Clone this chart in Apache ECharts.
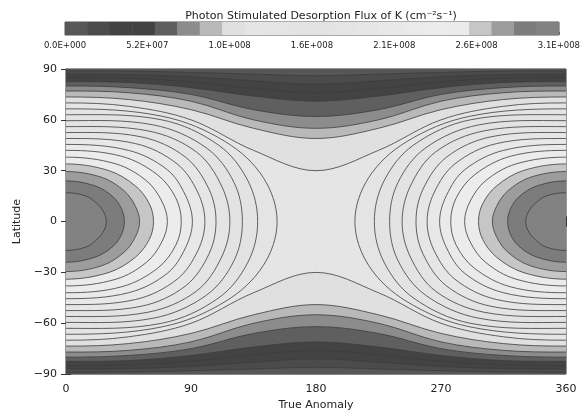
<!DOCTYPE html>
<html lang="en">
<head>
<meta charset="UTF-8">
<title>Photon Stimulated Desorption Flux of K</title>
<script src="https://cdn.jsdelivr.net/npm/echarts@6/dist/echarts.min.js"></script>
<style>html,body{margin:0;padding:0;background:#fff;}</style>
</head>
<body>
<div id="main" style="width:583px;height:416px;"></div>
<script>
// flux levels (cm^-2 s^-1): level k covers [k*levelStep, (k+1)*levelStep], 22 levels up to 3.12E8
var levelStep = 1.4182e7;
var levelIds = [0,1,2,3,4,5,6,7,8,9,10,11,12,13,14,15,16,17,18,19,20,21];
var barTicks = [0, 5.2e7, 1.04e8, 1.56e8, 2.08e8, 2.6e8, 3.12e8];
var anomalyTicks = [0, 90, 180, 270, 360];
var latTicks = [-90, -60, -30, 0, 30, 60, 90];

// grey for each level (IDL colour table)
var grays = ['#575757','#4b4b4b','#434343','#434343','#5f5f5f','#8c8c8c','#b9b9b9','#e0e0e0',
             '#e5e5e5','#e4e4e4','#e3e3e3','#e3e3e3','#e4e4e4','#e6e6e6','#e8e8e8','#eaeaea',
             '#ececec','#ebebeb','#c6c6c6','#9c9c9c','#7c7c7c','#828282'];

// contours read in the quadrant anomaly 0..180, latitude 0..90 [anomaly, latitude]
// closed ones round the maxima at (0,0) and (360,0)
var ovals = {
  21: [[0,17],[14.5,15],[23,10],[27.5,5],[29,0]],
  20: [[0,24],[21,21],[34,14.5],[40,7.5],[42,0]],
  19: [[0,29.5],[26,26],[42,18],[50,9],[53,0]],
  18: [[0,34],[31,30],[50,21],[60,10.5],[63,0]],
  17: [[0,38],[36,34],[58,24],[69,12],[73,0]],
  16: [[0,42],[40,38.5],[66,27.5],[79,14],[83,0]],
  15: [[0,45.5],[45,42],[73,30.5],[86,15.5],[91,0]],
  14: [[0,49],[50,46],[80,34],[95,17],[100,0]],
  13: [[0,52.5],[54,50],[86,38],[103,19],[108,0]],
  12: [[0,56],[59,53.5],[94,41],[112,21],[118,0]],
  11: [[0,59.5],[63,57],[101,43.5],[121,23],[127,0]],
  10: [[0,63],[69,60],[110,45],[131,24],[138,0]],
  9:  [[0,66.5],[70,62],[115,47],[142,26],[152,0]]
};
// open ones running right across the orbit
var bands = {
  8: [[0,70],[45,68],[90,60],[135,42],[180,30]],
  7: [[0,73.5],[45,72],[90,66],[135,55],[180,49]],
  6: [[0,77],[45,76],[90,71],[135,60],[180,55]],
  5: [[0,80],[45,79],[90,75],[135,66],[180,62]],
  4: [[0,82.5],[45,82],[90,79],[135,74],[180,71]],
  3: [[0,85],[45,84.5],[90,82.5],[135,78.5],[180,76]],
  2: [[0,87],[45,86.7],[90,85.5],[135,83],[180,81]],
  1: [[0,89],[45,88.8],[90,88],[135,87],[180,86]]
};

var myChart = echarts.init(document.getElementById('main'));

function sci(v) {
  if (v === 0) return '0.0E+000';
  var s = v.toExponential(1).split('e');
  var e = parseInt(s[1], 10);
  return s[0] + 'E' + (e < 0 ? '-' : '+') + String(Math.abs(e)).padStart(3, '0');
}
function minus(v) { return v < 0 ? '\u2212' + Math.abs(v) : String(v); }

// mirror a quadrant contour into a closed loop round (cx, 0)
function ovalLoop(q, cx) {
  var pts = [], n = q.length, i;
  for (i = 0; i < n; i++) pts.push([cx + q[i][0], q[i][1]]);
  for (i = n - 2; i >= 0; i--) pts.push([cx + q[i][0], -q[i][1]]);
  for (i = 1; i < n; i++) pts.push([cx - q[i][0], -q[i][1]]);
  for (i = n - 2; i >= 1; i--) pts.push([cx - q[i][0], q[i][1]]);
  return pts;
}
// mirror a quadrant contour across 0..360 (a bit past both edges)
function bandLine(q, sign) {
  var pts = [[-q[1][0], sign * q[1][1]]], n = q.length, i;
  for (i = 0; i < n; i++) pts.push([q[i][0], sign * q[i][1]]);
  for (i = n - 2; i >= 0; i--) pts.push([360 - q[i][0], sign * q[i][1]]);
  pts.push([360 + q[1][0], sign * q[1][1]]);
  return pts;
}

function shapesFor(k) {
  if (bands[k]) {
    return [{ closed: false, pts: bandLine(bands[k], 1) },
            { closed: false, pts: bandLine(bands[k], -1) }];
  }
  if (ovals[k]) {
    return [{ closed: true, pts: ovalLoop(ovals[k], 0) },
            { closed: true, pts: ovalLoop(ovals[k], 360) }];
  }
  return [];
}

function renderFill(params, api) {
  var k = api.value(0);
  var toPx = function (p) { return api.coord(p); };
  var kids = [];
  if (k === 0) {
    var a = api.coord([0, 90]), b = api.coord([360, -90]);
    kids.push({ type: 'rect', shape: { x: a[0], y: a[1], width: b[0] - a[0], height: b[1] - a[1] },
                style: { fill: grays[0] } });
  } else if (bands[k]) {
    var up = bandLine(bands[k], 1), lo = bandLine(bands[k], -1).reverse();
    kids.push({ type: 'polygon', shape: { points: up.concat(lo).map(toPx), smooth: 0.35 },
                style: { fill: grays[k] } });
  } else if (ovals[k]) {
    [0, 360].forEach(function (cx) {
      kids.push({ type: 'polygon', shape: { points: ovalLoop(ovals[k], cx).map(toPx), smooth: 0.35 },
                  style: { fill: grays[k] } });
    });
  }
  return { type: 'group', children: kids };
}

function renderLines(params, api) {
  var k = api.value(0);
  var toPx = function (p) { return api.coord(p); };
  var kids = shapesFor(k).map(function (s) {
    return { type: s.closed ? 'polygon' : 'polyline',
             shape: { points: s.pts.map(toPx), smooth: 0.35 },
             style: { fill: null, stroke: '#3c3c3c', lineWidth: 0.8 } };
  });
  return { type: 'group', children: kids };
}

function renderBar(params, api) {
  var k = api.value(0);
  var a = api.coord([k * levelStep, 1]), b = api.coord([(k + 1) * levelStep, 0]);
  return { type: 'rect', shape: { x: a[0], y: a[1], width: b[0] - a[0] + 0.5, height: b[1] - a[1] },
           style: { fill: grays[k] } };
}

var labelFont = { color: '#222', fontFamily: 'DejaVu Sans', fontSize: 11 };

option = {
  animation: false,
  backgroundColor: '#fff',
  title: {
    text: 'Photon Stimulated Desorption Flux of K (cm\u207B\u00B2s\u207B\u00B9)',
    left: 316, top: 6, textAlign: 'center',
    textStyle: { fontFamily: 'DejaVu Sans', fontSize: 11, fontWeight: 'normal', color: '#222' }
  },
  grid: [
    { left: 66, right: 17, top: 69, bottom: 40, show: true, borderColor: '#333', borderWidth: 1, backgroundColor: 'transparent' },
    { left: 65, right: 20, top: 22, height: 13, show: true, borderColor: '#555', borderWidth: 1 }
  ],
  xAxis: [
    { gridIndex: 0, type: 'value', min: 0, max: 360, interval: 90,
      name: 'True Anomaly', nameLocation: 'middle', nameGap: 24,
      nameTextStyle: labelFont,
      axisLine: { lineStyle: { color: '#333' } },
      axisTick: { inside: true, length: 5, lineStyle: { color: '#333' } },
      axisLabel: Object.assign({ margin: 10 }, labelFont),
      splitLine: { show: false } },
    { gridIndex: 1, type: 'value', min: 0, max: barTicks[barTicks.length - 1], interval: barTicks[1],
      axisLine: { show: false },
      axisTick: { inside: true, length: 3, lineStyle: { color: '#555' } },
      minorTick: { show: true, splitNumber: 2, length: 3, lineStyle: { color: '#555' } },
      axisLabel: { formatter: sci, margin: 6, color: '#222', fontFamily: 'DejaVu Sans', fontSize: 8.5 },
      splitLine: { show: false } },
    { gridIndex: 0, type: 'value', position: 'top', min: 0, max: 360, interval: 90,
      axisLine: { show: false }, axisLabel: { show: false }, splitLine: { show: false },
      axisTick: { inside: true, length: 5, lineStyle: { color: '#333' } } }
  ],
  yAxis: [
    { gridIndex: 0, type: 'value', min: -90, max: 90, interval: 30,
      name: 'Latitude', nameLocation: 'middle', nameGap: 40, nameRotate: 90,
      nameTextStyle: labelFont,
      axisLine: { show: true, lineStyle: { color: '#333' } },
      axisTick: { show: true, inside: true, length: 5, lineStyle: { color: '#333' } },
      axisLabel: Object.assign({ margin: 9, formatter: minus }, labelFont),
      splitLine: { show: false } },
    { gridIndex: 1, type: 'value', min: 0, max: 1,
      axisLine: { show: false }, axisTick: { show: false }, axisLabel: { show: false }, splitLine: { show: false } },
    { gridIndex: 0, type: 'value', position: 'right', min: -90, max: 90, interval: 30,
      axisLine: { show: false }, axisLabel: { show: false }, splitLine: { show: false },
      axisTick: { show: true, inside: true, length: 5, lineStyle: { color: '#333' } } }
  ],
  series: [
    { type: 'custom', name: 'fill', xAxisIndex: 0, yAxisIndex: 0, clip: true, silent: true,
      renderItem: renderFill, data: levelIds.map(function (k) { return [k]; }), z: 1 },
    { type: 'custom', name: 'contours', xAxisIndex: 0, yAxisIndex: 0, clip: true, silent: true,
      renderItem: renderLines, data: levelIds.map(function (k) { return [k]; }), z: 2 },
    { type: 'custom', name: 'colorbar', xAxisIndex: 1, yAxisIndex: 1, silent: true,
      renderItem: renderBar, data: levelIds.map(function (k) { return [k]; }), z: 1 }
  ]
};

myChart.setOption(option);
</script>
</body>
</html>
